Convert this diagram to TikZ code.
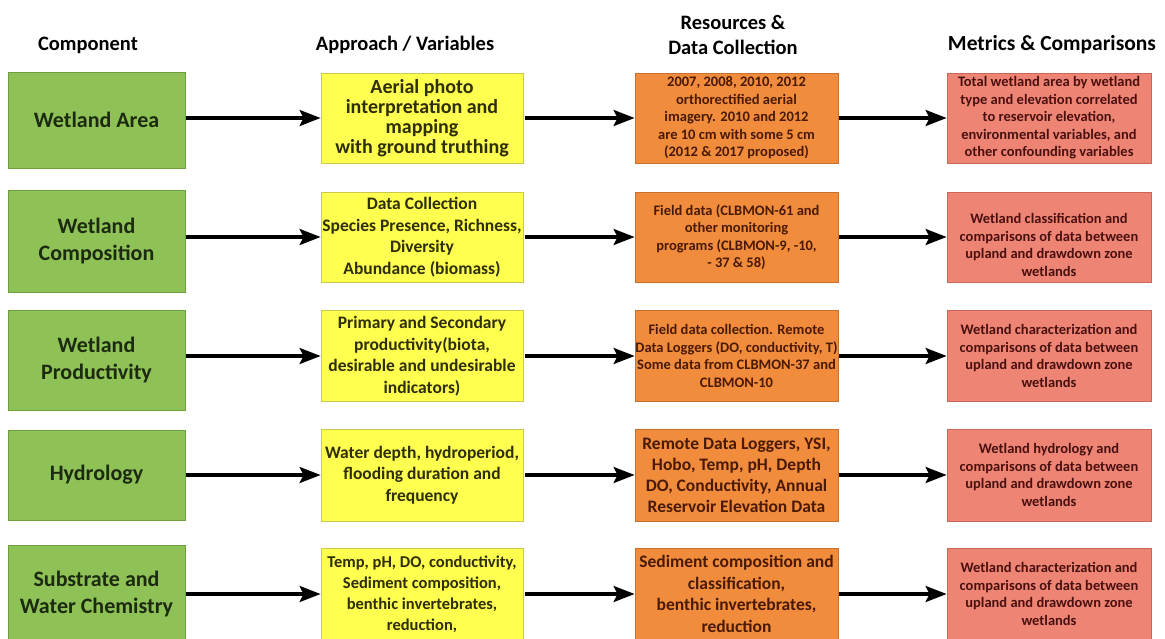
\documentclass[tikz,border=0pt]{standalone}
\usepackage{fontspec}
\setmainfont{Carlito}
\usetikzlibrary{arrows.meta}
\definecolor{gfill}{HTML}{8FC256}
\definecolor{gline}{HTML}{6E9E3E}
\definecolor{gtext}{HTML}{1C2A10}
\definecolor{yfill}{HTML}{FFFF50}
\definecolor{yline}{HTML}{C9C950}
\definecolor{ytext}{HTML}{2E2E08}
\definecolor{ofill}{HTML}{F08C3C}
\definecolor{oline}{HTML}{C8702E}
\definecolor{otext}{HTML}{4A1A05}
\definecolor{rfill}{HTML}{EE8574}
\definecolor{rline}{HTML}{C9685A}
\definecolor{rtext}{HTML}{4A1010}
\tikzset{
  hdr/.style={font=\bfseries\fontsize{20.5}{25}\selectfont, align=center, text=black},
  gbox/.style={draw=gline, fill=gfill, line width=0.8pt, align=center, text=gtext,
     font=\bfseries\fontsize{22}{27}\selectfont, minimum width=177pt, inner sep=2pt},
  ybox/.style={draw=yline, fill=yfill, line width=0.8pt, align=center, text=ytext,
     font=\bfseries\fontsize{17.5}{21.5}\selectfont, minimum width=202pt, inner sep=0pt},
  obox/.style={draw=oline, fill=ofill, line width=0.8pt, align=center, text=otext,
     font=\bfseries\fontsize{14.5}{17.5}\selectfont, minimum width=203pt, inner sep=0pt},
  rbox/.style={draw=rline, fill=rfill, line width=0.8pt, align=center, text=rtext,
     font=\bfseries\fontsize{14.5}{17.5}\selectfont, minimum width=204pt, inner sep=0pt},
  arr/.style={line width=3.2pt, -{Stealth[length=21pt,width=16pt,inset=4pt]}}
}
\begin{document}
\begin{tikzpicture}[x=1pt,y=-1pt]
\useasboundingbox (0,0) rectangle (1165,638);
\clip (0,0) rectangle (1165,638);
\fill[white] (0,0) rectangle (1165,638);
% headers
\node[hdr] (h1) at (88,45) {Component};
\node[hdr] (h2) at (405,45) {Approach / Variables};
\node[hdr] (h3) at (733,35) {Resources \&\\Data Collection};
\node[hdr, font=\bfseries\fontsize{21.5}{26}\selectfont] (h4) at (1052,45) {Metrics \& Comparisons};
% row 1
\node[gbox, minimum height=96pt] (G1) at (96.5,120) {Wetland Area};
\node[ybox, minimum height=90pt, font=\bfseries\fontsize{20}{20}\selectfont] (Y1) at (422,118) {Aerial photo\\interpretation and\\mapping\\with ground truthing};
\node[obox, minimum height=90pt] (O1) at (736.5,118) {2007, 2008, 2010, 2012\\orthorectified aerial\\imagery. 2010 and 2012\\are 10 cm with some 5 cm\\(2012 \& 2017 proposed)};
\node[rbox, minimum height=90pt] (R1) at (1049,118) {Total wetland area by wetland\\type and elevation correlated\\to reservoir elevation,\\environmental variables, and\\other confounding variables};
% row 2
\node[gbox, minimum height=102pt] (G2) at (96.5,241) {Wetland\\Composition};
\node[ybox, minimum height=90pt] (Y2) at (422,237) {Data Collection\\Species Presence, Richness,\\Diversity\\Abundance (biomass)};
\node[obox, minimum height=90pt] (O2) at (736.5,237) {Field data (CLBMON-61 and\\other monitoring\\programs (CLBMON-9, -10,\\- 37 \& 58)};
\node[rbox, minimum height=90pt] (R2) at (1049,237) {\rule{0pt}{26pt}Wetland classification and\\comparisons of data between\\upland and drawdown zone\\wetlands};
% row 3
\node[gbox, minimum height=100pt] (G3) at (96.5,360) {Wetland\\Productivity};
\node[ybox, minimum height=91pt] (Y3) at (422,356) {Primary and Secondary\\productivity(biota,\\desirable and undesirable\\indicators)};
\node[obox, minimum height=91pt] (O3) at (736.5,356) {Field data collection. Remote\\Data Loggers (DO, conductivity, T)\\Some data from CLBMON-37 and\\CLBMON-10};
\node[rbox, minimum height=91pt] (R3) at (1049,356) {Wetland characterization and\\comparisons of data between\\upland and drawdown zone\\wetlands};
% row 4
\node[gbox, minimum height=90pt] (G4) at (96.5,475) {Hydrology};
\node[ybox, minimum height=92pt] (Y4) at (422,475) {Water depth, hydroperiod,\\flooding duration and\\frequency};
\node[obox, minimum height=92pt, font=\bfseries\fontsize{17.5}{21}\selectfont] (O4) at (736.5,475) {Remote Data Loggers, YSI,\\Hobo, Temp, pH, Depth\\DO, Conductivity, Annual\\Reservoir Elevation Data};
\node[rbox, minimum height=92pt] (R4) at (1049,475) {Wetland hydrology and\\comparisons of data between\\upland and drawdown zone\\wetlands};
% row 5
\node[gbox, minimum height=98pt] (G5) at (96.5,594) {Substrate and\\Water Chemistry};
\node[ybox, minimum height=92pt, font=\bfseries\fontsize{16.5}{21}\selectfont] (Y5) at (422,594) {Temp, pH, DO, conductivity,\\Sediment composition,\\benthic invertebrates,\\reduction,};
\node[obox, minimum height=92pt, font=\bfseries\fontsize{17.5}{21.5}\selectfont] (O5) at (736.5,594) {Sediment composition and\\classification,\\benthic invertebrates,\\reduction};
\node[rbox, minimum height=92pt] (R5) at (1049,594) {Wetland characterization and\\comparisons of data between\\upland and drawdown zone\\wetlands};
% arrows
\foreach \r in {1,...,5}{
  \draw[arr, shorten <=1pt] (Y\r.west -| G\r.east) -- (Y\r.west);
  \draw[arr, shorten <=2pt] (O\r.west -| Y\r.east) -- (O\r.west);
  \draw[arr, shorten <=1pt] (R\r.west -| O\r.east) -- (R\r.west);
}
\end{tikzpicture}
\end{document}
